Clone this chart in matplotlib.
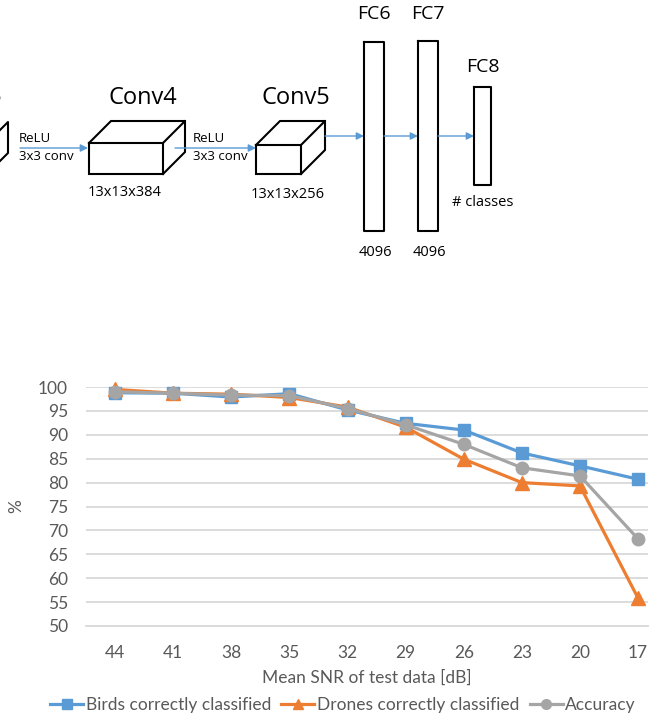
import matplotlib.pyplot as plt
from matplotlib.lines import Line2D

# chart data
snr = ['44', '41', '38', '35', '32', '29', '26', '23', '20', '17']
birds = [98.8, 98.7, 97.9, 98.6, 95.2, 92.4, 91.0, 86.2, 83.5, 80.7]
drones = [99.5, 98.7, 98.5, 97.8, 95.8, 91.6, 84.9, 80.0, 79.3, 55.8]
accuracy = [99.0, 98.7, 98.3, 98.2, 95.5, 92.1, 88.0, 83.1, 81.4, 68.2]
y_ticks = [50, 55, 60, 65, 70, 75, 80, 85, 90, 95, 100]

# diagram labels
conv_names = ['Conv4', 'Conv5']
conv_sizes = ['13x13x384', '13x13x256']
fc_names = ['FC6', 'FC7', 'FC8']
fc_sizes = ['4096', '4096', '# classes']

BLUE = '#5B9BD5'
ORANGE = '#ED7D31'
GRAY = '#A5A5A5'
TXT = '#595959'

fig = plt.figure(figsize=(6.6, 7.17), dpi=100)

# ---- network diagram on top (pixel coords) ----
d = fig.add_axes([0, 0, 1, 1])
d.set_xlim(0, 660)
d.set_ylim(717, 0)
d.axis('off')
dfont = 'Open Sans'


def box3d(x0, y0, w, h, dx, dy):
    k = dict(color='black', lw=1.5, solid_joinstyle='miter')
    d.plot([x0, x0 + w, x0 + w, x0, x0], [y0, y0, y0 + h, y0 + h, y0], **k)
    d.plot([x0, x0 + dx, x0 + w + dx, x0 + w], [y0, y0 - dy, y0 - dy, y0], **k)
    d.plot([x0 + w + dx, x0 + w + dx, x0 + w], [y0 - dy, y0 + h - dy, y0 + h], **k)


def arrow(x0, x1, y):
    d.annotate('', xy=(x1, y), xytext=(x0, y),
               arrowprops=dict(arrowstyle='-|>', color=BLUE, lw=1.0,
                               mutation_scale=11, shrinkA=0, shrinkB=0))


# cut-off box and label on the left edge (cropped in the original too)
d.plot([-4, 8, 8, -4], [134, 122, 153, 165], color='black', lw=1.5)
d.text(2, 97, 'Conv3', ha='right', va='center', fontsize=17, family=dfont)

arrow(20, 88, 148)
d.text(19, 139, 'ReLU', ha='left', va='center', fontsize=9.5, family=dfont)
d.text(19, 157, '3x3 conv', ha='left', va='center', fontsize=9.5, family=dfont)

box3d(89, 143, 74, 31, 22, 22)
d.text(143, 98, conv_names[0], ha='center', va='center', fontsize=17, family=dfont)
d.text(125, 193, conv_sizes[0], ha='center', va='center', fontsize=10.5, family=dfont)

arrow(175, 256, 148)
d.text(193, 139, 'ReLU', ha='left', va='center', fontsize=9.5, family=dfont)
d.text(193, 157, '3x3 conv', ha='left', va='center', fontsize=9.5, family=dfont)

box3d(256, 145, 45, 29, 24, 24)
d.text(296, 98, conv_names[1], ha='center', va='center', fontsize=17, family=dfont)
d.text(288, 195, conv_sizes[1], ha='center', va='center', fontsize=10.5, family=dfont)

fc_x = [364, 418, 474]
fc_w = [20, 20, 17]
fc_top = [42, 41, 87]
fc_bot = [231, 231, 185]
fc_name_y = [14, 14, 67]
fc_size_y = [253, 253, 203]
arrow(325, 364, 136)
arrow(384, 418, 136)
arrow(438, 474, 136)
for i in range(3):
    x, w = fc_x[i], fc_w[i]
    d.plot([x, x + w, x + w, x, x], [fc_top[i], fc_top[i], fc_bot[i], fc_bot[i], fc_top[i]],
           color='black', lw=1.5)
    d.text(x + w / 2, fc_name_y[i], fc_names[i], ha='center', va='center',
           fontsize=14, family=dfont)
    d.text(x + w / 2 + (1 if i < 2 else 0), fc_size_y[i], fc_sizes[i], ha='center',
           va='center', fontsize=10.5, family=dfont)

# ---- line chart ----
cfont = 'Lato'
ax = fig.add_axes([86 / 660, (717 - 626) / 717, 562 / 660, 239 / 717])
x = list(range(len(snr)))
ax.plot(x, birds, color=BLUE, lw=2.3, marker='s', ms=9, clip_on=False, zorder=3,
        label='Birds correctly classified')
ax.plot(x, drones, color=ORANGE, lw=2.3, marker='^', ms=9.5, clip_on=False, zorder=4,
        label='Drones correctly classified')
ax.plot(x, accuracy, color=GRAY, lw=2.3, marker='o', ms=9, clip_on=False, zorder=5,
        label='Accuracy')

ax.set_xlim(-0.5, 9.17)
ax.set_ylim(50, 100)
ax.set_yticks(y_ticks)
ax.set_xticks(x)
ax.set_xticklabels(snr)
ax.grid(axis='y', color='#D9D9D9', lw=1.3)
ax.set_axisbelow(True)
for s in ['top', 'right', 'left']:
    ax.spines[s].set_visible(False)
ax.spines['bottom'].set_color('#D9D9D9')
ax.spines['bottom'].set_linewidth(1.3)
ax.tick_params(length=0, labelsize=12.5, labelcolor=TXT, pad=14)
for lab in ax.get_xticklabels() + ax.get_yticklabels():
    lab.set_family(cfont)
ax.tick_params(axis='y', pad=13)
ax.set_ylabel('%', fontsize=12.5, color=TXT, family=cfont)
ax.yaxis.set_label_coords(-62 / 562, 0.5)
ax.set_xlabel('Mean SNR of test data [dB]', fontsize=12.5, color=TXT, family=cfont,
              labelpad=6)

handles = [Line2D([], [], color=BLUE, lw=2.3, marker='s', ms=7),
           Line2D([], [], color=ORANGE, lw=2.3, marker='^', ms=7.5),
           Line2D([], [], color=GRAY, lw=2.3, marker='o', ms=7)]
leg = fig.legend(handles, ['Birds correctly classified', 'Drones correctly classified', 'Accuracy'],
                 loc='center', bbox_to_anchor=(343 / 660, 1 - 705 / 717), ncol=3,
                 frameon=False, handlelength=1.9, handletextpad=0.15, columnspacing=0.6,
                 prop={'family': cfont, 'size': 12.5})
for t in leg.get_texts():
    t.set_color(TXT)

fig.savefig('out.png', dpi=100)
